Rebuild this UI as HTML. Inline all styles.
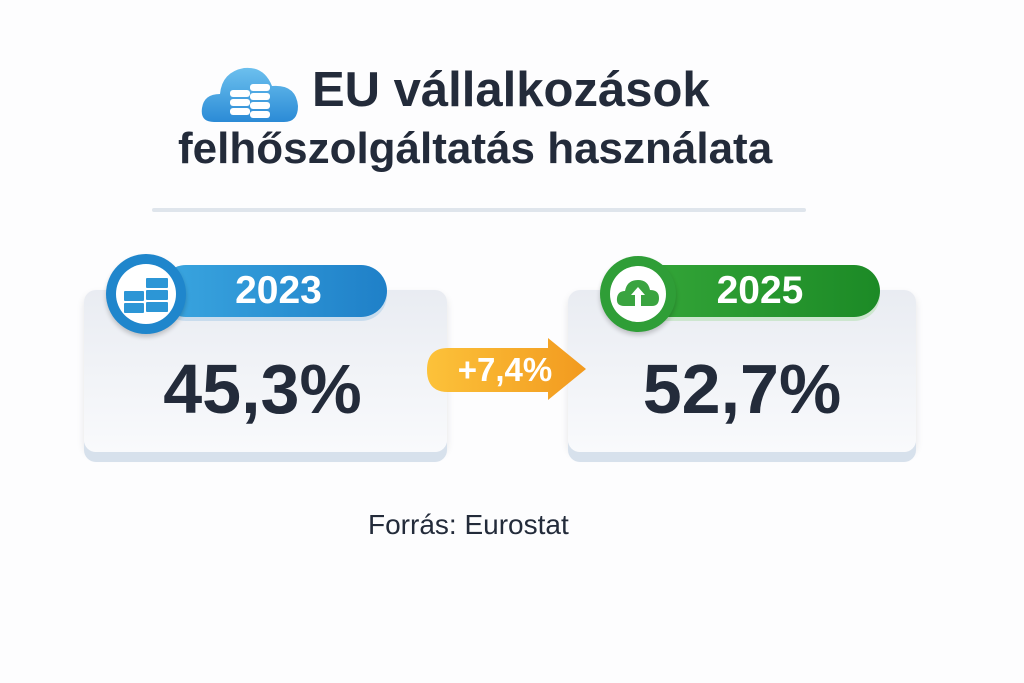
<!DOCTYPE html>
<html><head><meta charset="utf-8"><style>
body{margin:0;width:1024px;height:683px;background:#fdfdfe;font-family:"Liberation Sans",sans-serif;position:relative;overflow:hidden}
.a{position:absolute}
.t{color:#232b3a;font-weight:bold;white-space:nowrap}
.card{background:linear-gradient(180deg,#e9ecf2,#f9fafc);border-radius:12px;box-shadow:0 10px 0 #d7e1ec,0 4px 8px rgba(0,0,0,.1)}
.pill{border-radius:27px;color:#fff;font-weight:bold;font-size:39px;text-align:center;line-height:52px}
.num{font-size:70px;font-weight:bold;color:#232b3a;text-align:center}
</style></head><body>
<svg class="a" style="left:200px;top:64px" width="100" height="62">
<defs><linearGradient id="cg" x1="0" y1="0" x2="0" y2="1"><stop offset="0" stop-color="#6cc0ee"/><stop offset="1" stop-color="#2b8bd6"/></linearGradient></defs>
<path d="M14 58 Q0 58 2 44 Q4 30 20 30 Q22 8 44 4 Q64 2 72 22 Q96 20 98 42 Q98 58 84 58 Z" fill="url(#cg)"/>
<g fill="#fff"><rect x="30" y="26" width="20" height="7" rx="3"/><rect x="30" y="35" width="20" height="7" rx="3"/><rect x="30" y="44" width="20" height="7" rx="3"/>
<rect x="50" y="20" width="20" height="7" rx="3"/><rect x="50" y="29" width="20" height="7" rx="3"/><rect x="50" y="38" width="20" height="7" rx="3"/><rect x="50" y="47" width="20" height="7" rx="3"/></g></svg>
<div class="a t" style="left:312px;top:62px;font-size:49px">EU vállalkozások</div>
<div class="a t" style="left:178px;top:124px;font-size:44px">felhőszolgáltatás használata</div>
<div class="a" style="left:152px;top:208px;width:654px;height:4px;background:#dfe5ec;border-radius:2px"></div>

<div class="a card" style="left:84px;top:290px;width:363px;height:162px"></div>
<div class="a pill" style="left:160px;top:265px;width:227px;height:52px;background:linear-gradient(90deg,#3aa6e0,#1f80c8);box-shadow:0 4px 0 #c9dced;padding-left:10px;box-sizing:border-box">2023</div>
<div class="a" style="left:106px;top:254px;width:80px;height:80px;border-radius:50%;background:#1f86cc;box-shadow:0 3px 5px rgba(0,0,0,.2)"></div>
<div class="a" style="left:116px;top:264px;width:60px;height:60px;border-radius:50%;background:#fff"></div>
<svg class="a" style="left:124px;top:276px" width="46" height="40"><g fill="#2c96d6"><rect x="0" y="15" width="20" height="10" rx="1"/><rect x="0" y="27" width="20" height="10" rx="1"/><rect x="22" y="2" width="22" height="10" rx="1"/><rect x="22" y="14" width="22" height="10" rx="1"/><rect x="22" y="26" width="22" height="10" rx="1"/></g></svg>
<div class="a num" style="left:84px;top:349px;width:357px">45,3%</div>

<div class="a card" style="left:568px;top:290px;width:348px;height:162px"></div>
<div class="a pill" style="left:620px;top:265px;width:260px;height:52px;background:linear-gradient(90deg,#36a83a,#1c8a26);box-shadow:0 4px 0 #cde6cf;padding-left:20px;box-sizing:border-box">2025</div>
<div class="a" style="left:600px;top:256px;width:76px;height:76px;border-radius:50%;background:#2f9e37;box-shadow:0 3px 5px rgba(0,0,0,.2)"></div>
<div class="a" style="left:610px;top:266px;width:56px;height:56px;border-radius:50%;background:#fff"></div>
<svg class="a" style="left:616px;top:278px" width="44" height="30"><path d="M8 28 Q0 28 1 20 Q2 13 9 13 Q11 2 22 2 Q32 2 34 12 Q43 12 43 20 Q43 28 36 28 Z" fill="#3aa440"/><path d="M22 9 L29 17 H25 V28 H19 V17 H15 Z" fill="#fff"/></svg>
<div class="a num" style="left:568px;top:349px;width:348px">52,7%</div>

<svg class="a" style="left:424px;top:336px" width="166" height="70">
<defs><linearGradient id="og" x1="0" x2="1"><stop offset="0" stop-color="#fcc23a"/><stop offset="1" stop-color="#f29a1f"/></linearGradient></defs>
<path d="M24 12 H124 V2 L162 33 L124 64 V56 H24 Q3 56 3 34 Q3 12 24 12 Z" fill="url(#og)"/>
<text x="81" y="45" text-anchor="middle" font-family="Liberation Sans" font-weight="bold" font-size="33" fill="#fff">+7,4%</text></svg>

<div class="a" style="left:368px;top:509px;font-size:28px;color:#232b3a">Forrás: Eurostat</div>
</body></html>
